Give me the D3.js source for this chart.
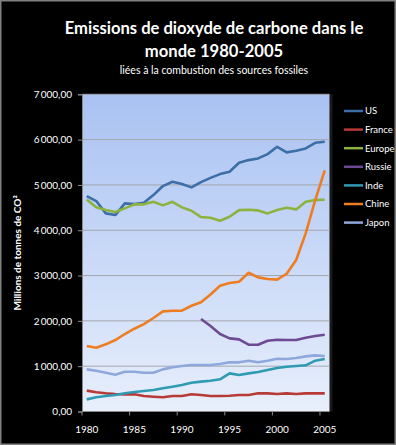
<!DOCTYPE html>
<html>
<head>
<meta charset="UTF-8">
<script src="https://d3js.org/d3.v7.min.js"></script>
<style>
  body { margin: 0; background: #000; }
  text { font-family: Lato, "Open Sans", sans-serif; fill: #fff; }
</style>
</head>
<body>
<svg width="396" height="445" id="canvas"></svg>
<script>
    var years = [1980, 1981, 1982, 1983, 1984, 1985, 1986, 1987, 1988, 1989, 1990, 1991, 1992,
        1993, 1994, 1995, 1996, 1997, 1998, 1999, 2000, 2001, 2002, 2003, 2004, 2005];
    var us = [4754, 4644, 4372, 4335, 4593, 4577, 4606, 4776, 4975, 5070, 5019, 4946, 5063,
        5155, 5239, 5290, 5488, 5548, 5585, 5680, 5842, 5718, 5754, 5806, 5930, 5952];
    var france = [460, 423, 401, 386, 379, 379, 342, 327, 313, 342, 342, 379, 364,
        342, 342, 349, 364, 364, 401, 401, 386, 401, 386, 401, 401, 401];
    var europe = [4681, 4505, 4445, 4401, 4483, 4571, 4571, 4628, 4549, 4628, 4505, 4430, 4291,
        4275, 4209, 4298, 4445, 4452, 4438, 4372, 4445, 4496, 4460, 4628, 4666, 4672];
    var russie = [null, null, null, null, null, null, null, null, null, null, null, null, 2040,
        1886, 1710, 1614, 1592, 1474, 1474, 1562, 1584, 1577, 1577, 1628, 1665, 1694];
    var inde = [268, 313, 342, 364, 401, 430, 452, 474, 511, 547, 585, 636, 660,
        680, 710, 842, 805, 842, 871, 915, 960, 988, 1004, 1019, 1121, 1158];
    var chine = [1445, 1408, 1482, 1577, 1710, 1827, 1930, 2063, 2210, 2224, 2224, 2334, 2411,
        2581, 2775, 2835, 2864, 3062, 2960, 2923, 2910, 3040, 3342, 3931, 4666, 5320];
    var japon = [930, 900, 856, 812, 878, 878, 856, 856, 930, 975, 1004, 1026, 1026,
        1026, 1048, 1085, 1085, 1121, 1085, 1121, 1165, 1158, 1180, 1217, 1239, 1224];
    var yTicks = [0, 1000, 2000, 3000, 4000, 5000, 6000, 7000];
    var xLabels = [1980, 1985, 1990, 1995, 2000, 2005];

    var series = [
        { name: "US", values: us, color: "#3c6ea8" },
        { name: "France", values: france, color: "#b83a36" },
        { name: "Europe", values: europe, color: "#8db33f" },
        { name: "Russie", values: russie, color: "#6d4a93" },
        { name: "Inde", values: inde, color: "#2f9bb3" },
        { name: "Chine", values: chine, color: "#ee7d22" },
        { name: "Japon", values: japon, color: "#8ea8dc" }
    ];

    var svg = d3.select("#canvas");
    var pLeft = 82, pRight = 329.5, pTop = 94.3, pBottom = 411.5;

    // outer border
    svg.append("rect").attr("x", 0.75).attr("y", 0.75).attr("width", 394.5).attr("height", 443.5)
        .attr("fill", "#000").attr("stroke", "#808080").attr("stroke-width", 1.5);

    // titles
    svg.append("text").attr("x", 214).attr("y", 34).attr("text-anchor", "middle")
        .attr("font-size", 16.6).attr("font-weight", "bold")
        .text("Emissions de dioxyde de carbone dans le");
    svg.append("text").attr("x", 214).attr("y", 56.5).attr("text-anchor", "middle")
        .attr("font-size", 16.6).attr("font-weight", "bold")
        .text("monde 1980-2005");
    svg.append("text").attr("x", 214).attr("y", 74).attr("text-anchor", "middle")
        .attr("font-size", 10.5)
        .text("liées à la combustion des sources fossiles");

    var x = d3.scaleBand().domain(years).range([pLeft, pRight]).padding(0);
    var y = d3.scaleLinear().domain([0, 7000]).range([pBottom, pTop]);

    // plot background gradient
    var grad = svg.append("defs").append("linearGradient").attr("id", "bg")
        .attr("x1", 0).attr("y1", 0).attr("x2", 0).attr("y2", 1);
    grad.append("stop").attr("offset", "0%").attr("stop-color", "#a9c2f2");
    grad.append("stop").attr("offset", "100%").attr("stop-color", "#e8effc");

    svg.append("rect").attr("x", pRight).attr("y", pTop).attr("width", 3).attr("height", pBottom - pTop)
        .attr("fill", "#1a1a1a");
    svg.append("rect").attr("x", pLeft).attr("y", pTop).attr("width", pRight - pLeft).attr("height", pBottom - pTop)
        .attr("fill", "url(#bg)");

    // gridlines
    svg.append("g").selectAll("line").data(yTicks.filter(function (d) { return d > 0; }))
        .enter().append("line")
        .attr("x1", pLeft).attr("x2", pRight)
        .attr("y1", function (d) { return y(d); }).attr("y2", function (d) { return y(d); })
        .attr("stroke", "#a3a6ab").attr("stroke-width", 1);

    // y axis
    var fr = d3.formatLocale({ decimal: ",", thousands: "\u2009", grouping: [3], currency: ["", " €"] });
    var yAxis = svg.append("g").attr("transform", "translate(" + pLeft + ",0)")
        .call(d3.axisLeft(y).tickValues(yTicks).tickFormat(fr.format(",.2f")).tickSize(4).tickPadding(6));
    yAxis.select(".domain").attr("stroke", "#8a8a8a");
    yAxis.selectAll(".tick line").attr("stroke", "#8a8a8a");
    yAxis.selectAll(".tick text").attr("fill", "#fff").attr("font-size", 10)
        .attr("font-family", "Lato, sans-serif");

    // x axis
    var xAxis = svg.append("g").attr("transform", "translate(0," + pBottom + ")");
    xAxis.append("line").attr("x1", pLeft).attr("x2", pRight).attr("stroke", "#8a8a8a");
    xAxis.selectAll(".tk").data(xLabels).enter().append("line")
        .attr("x1", function (d) { return x(d); }).attr("x2", function (d) { return x(d); })
        .attr("y1", 0).attr("y2", 4).attr("stroke", "#8a8a8a");
    xAxis.selectAll("text").data(xLabels).enter().append("text")
        .attr("x", function (d) { return x(d) + x.bandwidth() / 2; })
        .attr("y", 21).attr("text-anchor", "middle").attr("font-size", 10)
        .text(function (d) { return d; });

    // y axis title
    svg.append("text").attr("transform", "translate(21," + ((pTop + pBottom) / 2) + ") rotate(-90)")
        .attr("text-anchor", "middle").attr("font-size", 10).attr("font-weight", "bold")
        .text("Millions de tonnes de CO²");

    // lines
    var line = d3.line()
        .defined(function (d) { return d != null; })
        .x(function (d, i) { return x(years[i]) + x.bandwidth() / 2; })
        .y(function (d) { return y(d); });

    svg.append("g").selectAll("path").data(series).enter().append("path")
        .attr("d", function (s) { return line(s.values); })
        .attr("fill", "none")
        .attr("stroke", function (s) { return s.color; })
        .attr("stroke-width", 2.6)
        .attr("stroke-linejoin", "round");

    // legend
    var leg = svg.append("g").selectAll("g").data(series).enter().append("g")
        .attr("transform", function (s, i) { return "translate(344," + (111 + i * 18.6) + ")"; });
    leg.append("line").attr("x1", 0).attr("x2", 19)
        .attr("stroke", function (s) { return s.color; }).attr("stroke-width", 2.5);
    leg.append("text").attr("x", 21).attr("dy", "0.35em").attr("font-size", 9.5)
        .text(function (s) { return s.name; });
</script>
</body>
</html>
